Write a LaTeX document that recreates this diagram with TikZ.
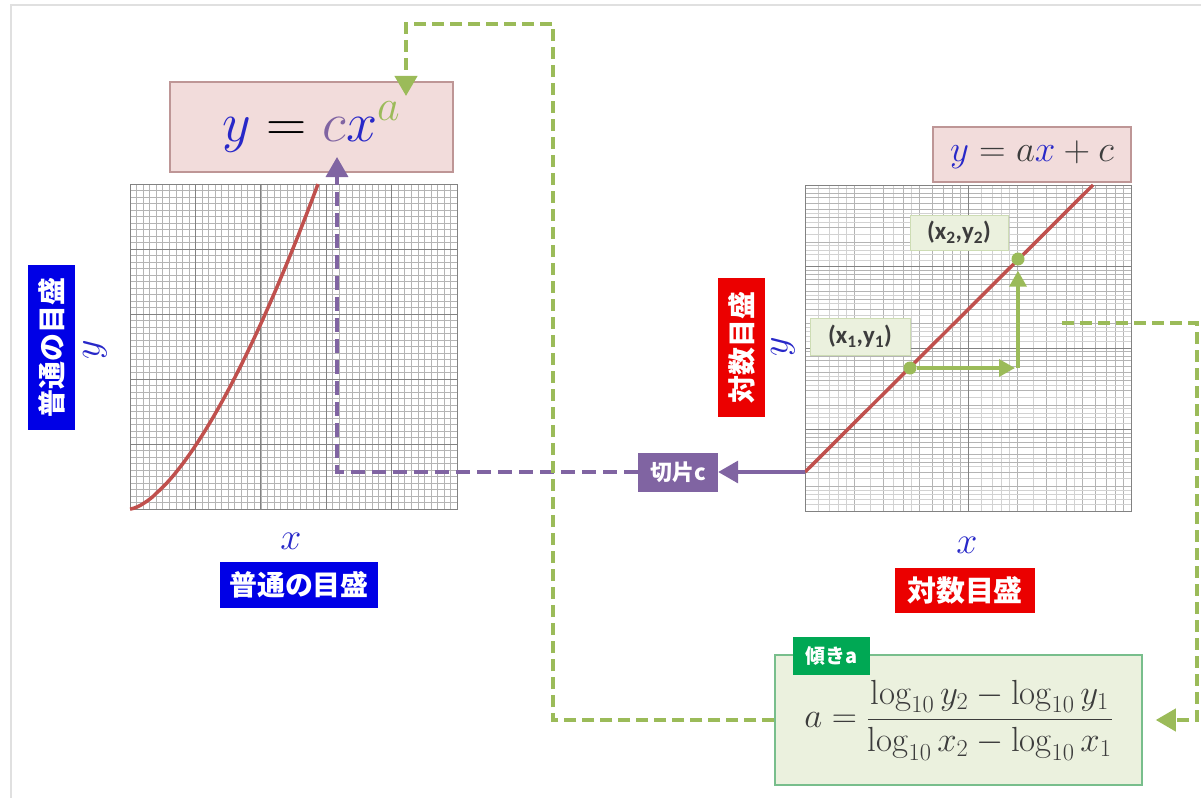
\RequirePackage{fix-cm}
\documentclass[tikz,border=0pt]{standalone}
\usepackage{amsmath}
\usepackage{fontspec}
\newfontfamily\jpfont{Noto Sans CJK JP}
\newfontfamily\ptfont{Carlito}
\usetikzlibrary{arrows.meta}

\newcommand\setpx[1]{\fontsize{#1}{#1}\selectfont}

\definecolor{eqblue}{RGB}{40,40,200}
\definecolor{eqgray}{RGB}{60,60,60}
\definecolor{tagblue}{RGB}{0,0,230}
\definecolor{tagred}{RGB}{235,0,0}
\definecolor{cutpurple}{RGB}{128,100,162}
\definecolor{slopegreen}{RGB}{155,187,89}
\definecolor{taggreen}{RGB}{0,168,84}
\definecolor{curvered}{RGB}{192,80,77}
\definecolor{pinkfill}{RGB}{242,220,219}
\definecolor{pinkline}{RGB}{190,150,150}
\definecolor{palegreen}{RGB}{235,241,222}
\definecolor{ptline}{RGB}{205,220,180}
\definecolor{boxline}{RGB}{120,190,140}
\definecolor{gridline}{RGB}{180,180,180}
\definecolor{gridmajor}{RGB}{130,130,130}

\tikzset{
  eqbox/.style={draw=pinkline, fill=pinkfill, line width=1.2bp, inner sep=0pt},
  scaletag/.style={fill=#1, text=white, inner sep=0pt, font=\jpfont\bfseries\setpx{28}},
  ptbox/.style={draw=ptline, fill=palegreen, line width=1bp, inner sep=0pt, text=eqgray, font=\ptfont\bfseries\setpx{25}},
  axlabel/.style={text=eqblue, font=\setpx{38}},
  minorline/.style={draw=gridline, line width=0.5bp},
  majorline/.style={draw=gridmajor, line width=1bp},
  guide/.style={slopegreen, line width=4bp, dash pattern=on 12bp off 6bp},
  cutline/.style={cutpurple, line width=3.5bp},
  bigtip/.style={-{Triangle[length=20bp,width=22bp]}},
  smalltip/.style={-{Triangle[length=16bp,width=17bp]}},
}

\begin{document}
\begin{tikzpicture}[x=1bp, y=-1bp]
  \useasboundingbox (0,0) rectangle (1201,798);
  \draw[black!12, line width=1.5bp] (11,798) -- (11,5) -- (1201,5);

  % Left graph: ordinary scale
  \foreach \i in {0,...,50}{
    \pgfmathsetmacro\gx{130+6.54*\i}
    \pgfmathsetmacro\gy{184+6.5*\i}
    \draw[minorline] (\gx,184) -- (\gx,509);
    \draw[minorline] (130,\gy) -- (457,\gy);
  }
  \foreach \i in {10,20,...,40}{
    \pgfmathsetmacro\gx{130+6.54*\i}
    \pgfmathsetmacro\gy{184+6.5*\i}
    \draw[majorline, line width=0.8bp] (\gx,184) -- (\gx,509);
    \draw[majorline, line width=0.8bp] (130,\gy) -- (457,\gy);
  }
  \draw[majorline] (130,184) rectangle (457,509);
  \draw[curvered, line width=3.5bp] (130,509) -- plot[domain=0.005:1, samples=60, variable=\t] ({130+188*\t},{509-325*\t^1.55});

  \node[eqbox, minimum width=283bp, minimum height=90bp] (powEq) at (311.5,127)
    {\setpx{56}${\color{eqblue}y}={\color{cutpurple}c}{\color{eqblue}x}^{\mbox{\setpx{44}$\color{slopegreen}a$}}$};
  \coordinate (cTip) at (337,157);
  \coordinate (aTip) at (406,96);

  \node[scaletag=tagblue, rotate=90, minimum width=165bp, minimum height=47bp] (yScaleL) at (51.5,347.5) {普通の目盛};
  \node[axlabel, rotate=90] (yLabelL) at (95,350) {$y$};
  \node[axlabel] (xLabelL) at (291,541) {$x$};
  \node[scaletag=tagblue, minimum width=158bp, minimum height=46bp] (xScaleL) at (299,585) {普通の目盛};

  % Right graph: log scale
  \foreach \d in {0,1}{
    \foreach \k in {1.2,1.4,1.6,1.8,2.5,3.5,4.5}{
      \pgfmathsetmacro\gx{805+163*(\d+ln(\k)/ln(10))}
      \draw[minorline, draw=gridline!60] (\gx,185) -- (\gx,511);
    }
    \foreach \k in {2,...,9}{
      \pgfmathsetmacro\gx{805+163*(\d+ln(\k)/ln(10))}
      \draw[minorline] (\gx,185) -- (\gx,511);
    }
  }
  \foreach \d in {0,...,3}{
    \foreach \k in {1.2,1.4,1.6,1.8,2.5,3.5,4.5}{
      \pgfmathsetmacro\gy{511-81.5*(\d+ln(\k)/ln(10))}
      \draw[minorline, draw=gridline!60] (805,\gy) -- (1131,\gy);
    }
    \foreach \k in {2,...,9}{
      \pgfmathsetmacro\gy{511-81.5*(\d+ln(\k)/ln(10))}
      \draw[minorline] (805,\gy) -- (1131,\gy);
    }
  }
  \foreach \gx in {968}
    \draw[majorline] (\gx,185) -- (\gx,511);
  \foreach \gy in {429.5,348,266.5}
    \draw[majorline] (805,\gy) -- (1131,\gy);
  \draw[majorline] (805,185) rectangle (1131,511);

  \coordinate (lineStart) at (805,472);
  \coordinate (lineEnd) at (1093,185);
  \draw[curvered, line width=3.5bp] (lineStart) -- (lineEnd);

  \node[eqbox, minimum width=198bp, minimum height=55bp, text=eqgray] (linEq) at (1032,154.5)
    {\setpx{37}${\color{eqblue}y}=a{\color{eqblue}x}+c$};

  % Two points and the slope steps
  \node[circle, fill=slopegreen, minimum size=13bp, inner sep=0pt] (p1) at (910,368) {};
  \node[circle, fill=slopegreen, minimum size=13bp, inner sep=0pt] (p2) at (1018,259) {};
  \coordinate (corner) at (1018,368);
  \draw[slopegreen, line width=3.5bp, smalltip, shorten >=3bp] (p1) -- (corner);
  \draw[slopegreen, line width=3.5bp, smalltip, shorten >=5bp] (corner) -- (p2);
  \node[ptbox, minimum width=100bp, minimum height=37bp] (p1Label) at (860,336.5) {(x\textsubscript{1},y\textsubscript{1})};
  \node[ptbox, minimum width=98bp, minimum height=35bp] (p2Label) at (959,232.5) {(x\textsubscript{2},y\textsubscript{2})};

  \node[scaletag=tagred, rotate=90, minimum width=139bp, minimum height=47bp] (yScaleR) at (741.5,347.5) {対数目盛};
  \node[axlabel, rotate=90] (yLabelR) at (783,347) {$y$};
  \node[axlabel] (xLabelR) at (967,545) {$x$};
  \node[scaletag=tagred, minimum width=140bp, minimum height=45bp, font=\jpfont\bfseries\setpx{29}] (xScaleR) at (965,590.5) {対数目盛};

  % Intercept c
  \node[scaletag=cutpurple, minimum width=80bp, minimum height=39bp, font=\jpfont\bfseries\setpx{22}] (cut) at (678,472) {切片c};
  \draw[cutline, bigtip] (lineStart) -- (cut.east);
  \draw[cutline, dash pattern=on 14bp off 7bp, bigtip] (cut.west) -| (cTip);

  % Slope a
  \node[draw=boxline, fill=palegreen, line width=1.5bp, minimum width=367bp, minimum height=130bp, inner sep=0pt, text=eqgray] (slope) at (958.5,720)
    {\setpx{35}$a=\dfrac{\log_{10}y_2-\log_{10}y_1}{\log_{10}x_2-\log_{10}x_1}$};
  \node[scaletag=taggreen, minimum width=77bp, minimum height=38bp, font=\jpfont\bfseries\setpx{20}] (slopeTag) at (831.5,656) {傾きa};

  \coordinate (gStart) at (1062,323);
  \coordinate (gRight) at (1197,323);
  \coordinate (gTop) at (553,24);
  \draw[guide, bigtip] (gStart) -- (gRight) |- ([xshift=13bp]slope.east);
  \draw[guide, bigtip] (slope.west) -| (gTop) -| (aTip);
\end{tikzpicture}
\end{document}
